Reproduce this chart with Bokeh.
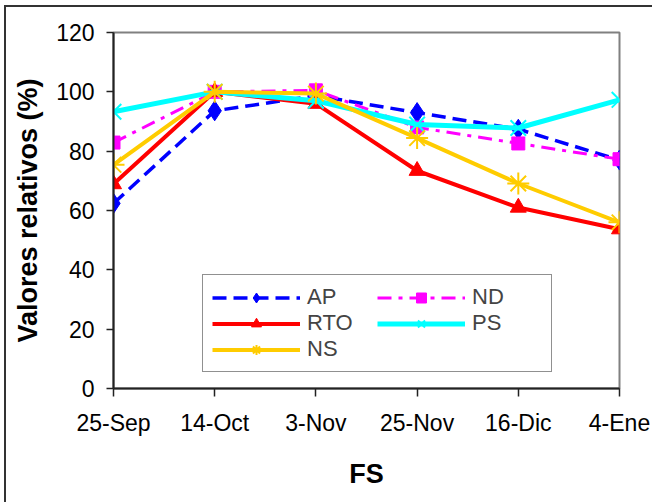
from bokeh.plotting import figure
from bokeh.models import FixedTicker, Legend, LegendItem
from bokeh.embed import file_html
from bokeh.resources import INLINE

categories = ["25-Sep", "14-Oct", "3-Nov", "25-Nov", "16-Dic", "4-Ene"]
ap = [62.4, 93.6, 98.7, 93.0, 87.4, 77.0]
nd = [82.9, 100.0, 100.5, 88.0, 82.6, 77.3]
rto = [68.9, 100.0, 96.0, 73.4, 61.0, 53.7]
ps = [93.3, 100.0, 97.0, 89.0, 87.8, 97.3]
ns = [75.4, 100.0, 99.4, 84.4, 69.1, 56.0]
y_ticks = [0, 20, 40, 60, 80, 100, 120]

x = list(range(len(categories)))
FONT = "Liberation Sans"

p = figure(width=652, height=502, output_backend="svg", toolbar_location=None,
           x_range=(0, len(categories) - 1), y_range=(0, 120),
           min_border_left=113, min_border_right=33, min_border_top=32, min_border_bottom=114)
p.background_fill_color = "white"
p.border_fill_color = "white"
p.border_fill_alpha = 0
p.styles = {"background-color": "white",
            "box-shadow": "inset 4px 5px 0 0 white, inset 6px 7px 0 0 #333333"}
p.outline_line_color = "#808080"
p.outline_line_width = 2
p.xgrid.visible = False
p.ygrid.visible = False

p.xaxis.ticker = FixedTicker(ticks=x)
p.xaxis.major_label_overrides = {i: c for i, c in enumerate(categories)}
p.yaxis.ticker = FixedTicker(ticks=y_ticks)
for ax in (p.xaxis[0], p.yaxis[0]):
    ax.axis_line_color = "#222222"
    ax.axis_line_width = 2
    ax.major_tick_line_color = "#222222"
    ax.major_tick_line_width = 1.5
    ax.major_tick_in = 0
    ax.minor_tick_line_color = None
    ax.major_label_text_font = FONT
    ax.major_label_text_font_size = "23px"
    ax.major_label_text_color = "black"
    ax.axis_label_text_font = FONT
    ax.axis_label_text_font_style = "bold"
    ax.axis_label_text_color = "black"
p.xaxis.major_tick_out = 8
p.yaxis.major_tick_out = 7
p.xaxis.major_label_standoff = 13
p.yaxis.major_label_standoff = 12
p.xaxis.axis_label = "FS"
p.yaxis.axis_label = "Valores relativos (%)"
p.xaxis.axis_label_text_font_size = "27px"
p.yaxis.axis_label_text_font_size = "27px"
p.xaxis.axis_label_standoff = 20
p.yaxis.axis_label_standoff = 10

series = [
    ("AP", ap, "#0000FF", 3.5, "14 7", "diamond", 20),
    ("ND", nd, "#FF00FF", 3, "14 7 4 7", "square", 13),
    ("RTO", rto, "#FF0000", 4, "solid", "triangle", 16),
    ("PS", ps, "#00FFFF", 5, "solid", "x", 22),
    ("NS", ns, "#FFCC00", 4, "solid", "asterisk", 22),
]
items = {}
for name, vals, color, lw, dash, marker, size in series:
    r1 = p.line(x, vals, line_color=color, line_width=lw, line_dash=dash)
    if marker in ("x", "asterisk"):
        r2 = p.scatter(x, vals, marker=marker, size=size, line_color=color, line_width=2)
    else:
        r2 = p.scatter(x, vals, marker=marker, size=size, fill_color=color, line_color=color)
    items[name] = LegendItem(label=name, renderers=[r1, r2])

legend = Legend(items=[items[k] for k in ["AP", "RTO", "NS", "ND", "PS"]],
                location=(89, 16), ncols=2,
                label_text_font=FONT, label_text_font_size="22px",
                glyph_width=88, glyph_height=25, label_height=20, label_width=70,
                spacing=0, padding=9, margin=0, label_standoff=7,
                border_line_color="#222222", border_line_width=1.5,
                background_fill_color="white", background_fill_alpha=1)
p.add_layout(legend, "center")

open("out.html", "w").write(file_html(p, INLINE))
